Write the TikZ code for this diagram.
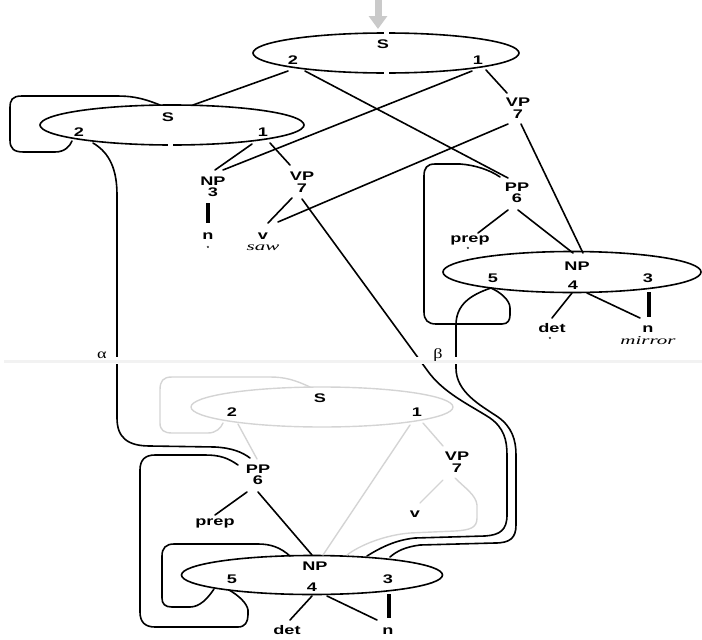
\documentclass[tikz,border=0pt]{standalone}
\usepackage{graphicx}
\usepackage{fontspec}
\setmainfont{Liberation Sans}
\newfontfamily\serifrm{Liberation Serif}
\usetikzlibrary{shapes.geometric,arrows.meta}
\definecolor{lg}{HTML}{D4D4D4}
\definecolor{arr}{HTML}{CACACA}
\definecolor{sep}{HTML}{F2F2F2}
\newcommand\wide[1]{\scalebox{1.45}[1]{#1}}
\newcommand\wideit[1]{\scalebox{1.75}[1]{#1}}
\newcommand\widegr[1]{\scalebox{1.3}[1]{#1}}
\begin{document}
\begin{tikzpicture}[x=1pt,y=-1pt,
  ln/.style={line width=1.6pt, line cap=round},
  thk/.style={line width=3.2pt},
  gl/.style={line width=1.4pt, draw=lg, line cap=round},
  ell/.style={ellipse, draw, line width=1.6pt, inner sep=0},
  gell/.style={ellipse, draw=lg, line width=1.4pt, inner sep=0},
  lbl/.style={font=\bfseries\fontsize{12.5}{11.5}\selectfont, inner sep=0, align=center},
  itl/.style={font=\serifrm\itshape\fontsize{12}{11}\selectfont, inner sep=0},
  mk/.style={font=\bfseries\fontsize{6}{6}\selectfont, inner sep=0},
  greek/.style={font=\serifrm\fontsize{14}{14}\selectfont, inner sep=0}]
\useasboundingbox (0,0) rectangle (702,640);

% ---------- ellipses ----------
\node[ell, minimum width=266pt, minimum height=40pt] (E1) at (386,53) {};
\node[ell, minimum width=264pt, minimum height=40pt] (E2) at (172,125) {};
\node[ell, minimum width=258pt, minimum height=41pt] (E3) at (572,272) {};
\node[gell, minimum width=262pt, minimum height=40pt] (E4) at (322,407) {};
\node[ell, minimum width=261pt, minimum height=39pt] (E5) at (312,575) {};
\fill[white] (384,30) rectangle (388.5,36);
\fill[white] (384,70) rectangle (388.5,76);
\fill[white] (168,142) rectangle (172.5,148);

% ---------- gray arrow ----------
\coordinate (ar0) at (378,-2);
\coordinate (ar1) at (378,29);
\draw[draw=arr, line width=7pt, -{Triangle[width=18pt,length=13pt]}] (ar0) -- (ar1);

% ---------- labels ----------
\node[lbl] (S1) at (383,44) {\wide{S}};
\node[lbl] (S1b) at (293,60) {\wide{2}};
\node[lbl] (S1a) at (478,60) {\wide{1}};
\node[lbl] (S2) at (168,117) {\wide{S}};
\node[lbl] (S2b) at (79,132) {\wide{2}};
\node[lbl] (S2a) at (263,132) {\wide{1}};
\node[lbl] (NPr) at (577,266) {\wide{NP}};
\node[lbl] (NPr5) at (493,278) {\wide{5}};
\node[lbl] (NPr4) at (573,285) {\wide{4}};
\node[lbl] (NPr3) at (648,278) {\wide{3}};
\node[lbl] (S4) at (320,398) {\wide{S}};
\node[lbl] (S4b) at (232,412) {\wide{2}};
\node[lbl] (S4a) at (417,412) {\wide{1}};
\node[lbl] (NPb) at (315,566) {\wide{NP}};
\node[lbl] (NPb5) at (232,579) {\wide{5}};
\node[lbl] (NPb4) at (312,587) {\wide{4}};
\node[lbl] (NPb3) at (388,579) {\wide{3}};

\node[lbl] (vpA) at (518,108) {\wide{VP}\\\wide{7}};
\node[lbl] (npA) at (213,187) {\wide{NP}\\\wide{3}};
\node[lbl] (vpB) at (302,182) {\wide{VP}\\\wide{7}};
\node[lbl] (nA) at (208,236) {\wide{n}};
\node[mk] (nAm) at (208,248) {*};
\node[lbl] (vA) at (263,236) {\wide{v}};
\node[itl] (sawA) at (263,248) {\wideit{saw}};
\node[lbl] (ppA) at (517,193) {\wide{PP}\\\wide{6}};
\node[lbl] (prepA) at (470,240) {\wide{prep}};
\node[mk] (prepAm) at (468,249) {*};
\node[lbl] (detA) at (552,328) {\wide{det}};
\node[mk] (detAm) at (550,339) {*};
\node[lbl] (nB) at (648,329) {\wide{n}};
\node[itl] (mirB) at (648,341) {\wideit{mirror}};
\node[lbl] (vpC) at (457,462) {\wide{VP}\\\wide{7}};
\node[lbl] (vC) at (415,514) {\wide{v}};
\node[lbl] (ppC) at (258,475) {\wide{PP}\\\wide{6}};
\node[lbl] (prepC) at (215,523) {\wide{prep}};
\node[lbl] (detC) at (287,630) {\wide{det}};
\node[lbl] (nC) at (388,631) {\wide{n}};

% ---------- connector end points ----------
\coordinate (p1) at (288,71);  \coordinate (p2) at (193,105);
\coordinate (p3) at (305,71);  \coordinate (p4) at (508,178);
\coordinate (p5) at (472,71);  \coordinate (p6) at (223,170);
\coordinate (p7) at (486,70);  \coordinate (p8) at (507,93);
\coordinate (p9) at (508,124); \coordinate (p10) at (278,222);
\coordinate (p11) at (521,124);\coordinate (p12) at (583,253);
\coordinate (q1) at (252,144); \coordinate (q2) at (215,170);
\coordinate (q3) at (270,143); \coordinate (q4) at (290,165);
\coordinate (q5) at (208,203); \coordinate (q6) at (208,223);
\coordinate (q7) at (292,198); \coordinate (q8) at (268,223);
\coordinate (q9) at (302,199);
\coordinate (r1) at (508,210); \coordinate (r2) at (478,233);
\coordinate (r3) at (518,210); \coordinate (r4) at (573,253);
\coordinate (r5) at (572,293); \coordinate (r6) at (552,318);
\coordinate (r7) at (587,293); \coordinate (r8) at (640,318);
\coordinate (r9) at (649,292); \coordinate (r10) at (649,317);
\coordinate (r11) at (500,177);\coordinate (r12) at (491,288);
\coordinate (a0) at (93,143);  \coordinate (a9) at (250,458);
\coordinate (l0) at (160,105); \coordinate (l9) at (72,141);
\coordinate (b9) at (367,556); \coordinate (c9) at (390,557);
\coordinate (g1) at (238,424); \coordinate (g2) at (257,459);
\coordinate (g3) at (410,425); \coordinate (g4) at (323,555);
\coordinate (g5) at (423,423); \coordinate (g6) at (443,446);
\coordinate (g7) at (443,480); \coordinate (g8) at (420,503);
\coordinate (g9) at (455,478); \coordinate (g10) at (347,555);
\coordinate (g11) at (310,387);\coordinate (g12) at (223,423);
\coordinate (s1) at (247,492); \coordinate (s2) at (215,515);
\coordinate (s3) at (258,492); \coordinate (s4) at (312,555);
\coordinate (s5) at (312,596); \coordinate (s6) at (290,620);
\coordinate (s7) at (327,596); \coordinate (s8) at (377,620);
\coordinate (s9) at (389,594); \coordinate (s10) at (389,618);
\coordinate (u1) at (238,465); \coordinate (u9) at (229,590);
\coordinate (v1) at (290,556); \coordinate (v9) at (214,589);

% ---------- gray connectors (bottom S) ----------
\draw[gl] (g11) .. controls (295,380) and (285,377) .. (270,377) -- (172,377)
  .. controls (163,377) and (160,381) .. (160,390) -- (160,423)
  .. controls (160,430) and (164,433) .. (172,433) -- (208,433)
  .. controls (216,433) and (221,428) .. (g12);
\draw[gl] (g1) -- (g2);
\draw[gl] (g3) -- (g4);
\draw[gl] (g5) -- (g6);
\draw[gl] (g7) -- (g8);
\draw[gl] (g9) .. controls (465,488) and (476,495) .. (477,505) -- (477,518)
  .. controls (477,528) and (470,530) .. (455,531) -- (410,533)
  .. controls (385,535) and (360,545) .. (g10);

% ---------- black connectors ----------
\draw[ln] (p1) -- (p2);
\draw[ln] (p3) -- (p4);
\draw[ln] (p5) -- (p6);
\draw[ln] (p7) -- (p8);
\draw[ln] (p9) -- (p10);
\draw[ln] (p11) -- (p12);
\draw[ln] (q1) -- (q2);
\draw[ln] (q3) -- (q4);
\draw[thk] (q5) -- (q6);
\draw[ln] (q7) -- (q8);
\draw[ln] (r1) -- (r2);
\draw[ln] (r3) -- (r4);
\draw[ln] (r5) -- (r6);
\draw[ln] (r7) -- (r8);
\draw[thk] (r9) -- (r10);
\draw[ln] (s1) -- (s2);
\draw[ln] (s3) -- (s4);
\draw[ln] (s5) -- (s6);
\draw[ln] (s7) -- (s8);
\draw[thk] (s9) -- (s10);

% loop round the left S
\draw[ln] (l0) .. controls (140,97) and (130,96) .. (115,96) -- (22,96)
  .. controls (12,96) and (10,100) .. (10,108) -- (10,140)
  .. controls (10,149) and (14,152) .. (24,152) -- (55,152)
  .. controls (65,152) and (70,146) .. (l9);
% loop round the right NP
\draw[ln] (r11) .. controls (490,170) and (475,165) .. (460,164) -- (435,164)
  .. controls (427,164) and (424,168) .. (424,176) -- (424,312)
  .. controls (424,320) and (428,324) .. (436,324) -- (502,324)
  .. controls (508,324) and (510,320) .. (510,315) -- (510,308)
  .. controls (510,300) and (500,292) .. (r12);
% alpha
\draw[ln] (a0) .. controls (110,153) and (117,170) .. (117,195) -- (117,418)
  .. controls (117,438) and (128,446) .. (150,446) -- (215,447)
  .. controls (232,448) and (242,452) .. (a9);
% beta (inner: from VP 7)
\draw[ln] (q9) -- (427,370) .. controls (443,393) and (470,405) .. (490,418)
  .. controls (504,428) and (507,440) .. (507,455) -- (507,515)
  .. controls (507,530) and (500,535) .. (485,536) -- (415,538)
  .. controls (395,540) and (380,548) .. (b9);
% beta (outer: from NP 5)
\draw[ln] (r12) .. controls (470,295) and (456,305) .. (456,325) -- (456,368)
  .. controls (456,392) and (480,405) .. (498,417)
  .. controls (512,427) and (516,440) .. (516,455) -- (516,525)
  .. controls (516,538) and (510,543) .. (495,543) -- (420,545)
  .. controls (405,547) and (397,551) .. (c9);
% loops round the bottom NP
\draw[ln] (u1) .. controls (228,458) and (220,455) .. (205,455) -- (155,455)
  .. controls (145,455) and (140,460) .. (140,470) -- (140,612)
  .. controls (140,622) and (145,627) .. (155,627) -- (238,627)
  .. controls (245,627) and (248,622) .. (248,615) -- (248,610)
  .. controls (247,603) and (238,595) .. (u9);
\draw[ln] (v1) .. controls (280,547) and (270,544) .. (258,544) -- (174,544)
  .. controls (166,544) and (162,548) .. (162,556) -- (162,598)
  .. controls (162,604) and (165,607) .. (172,607) -- (190,607)
  .. controls (200,607) and (208,598) .. (v9);

% ---------- separator ----------
\fill[white] (0,357) rectangle (702,363.5);
\coordinate (sepL) at (4,361);
\coordinate (sepR) at (702,361);
\draw[draw=sep, line width=3pt] (sepL) -- (sepR);
\node[greek] (alpha) at (102,355) {\widegr{α}};
\node[greek] (beta) at (438,355) {\widegr{β}};
\end{tikzpicture}
\end{document}
